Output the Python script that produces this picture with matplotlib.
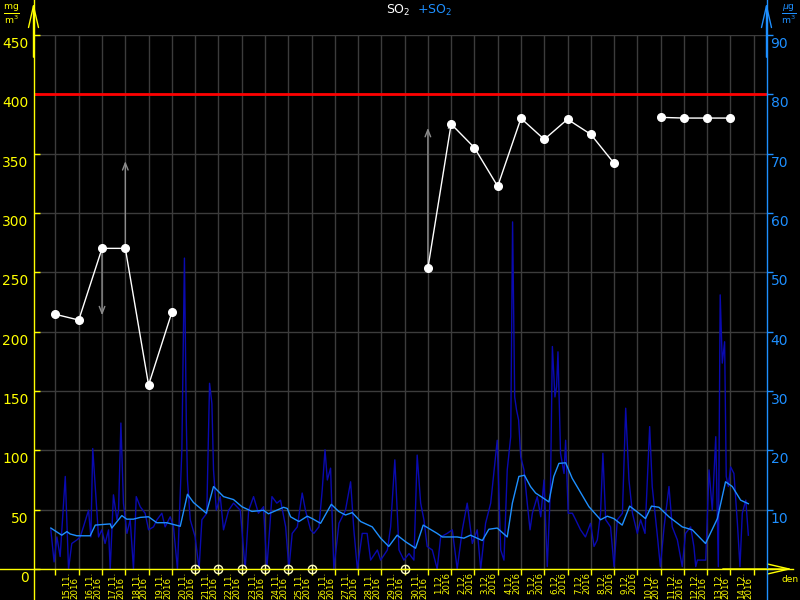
import numpy as np
import matplotlib
matplotlib.use("Agg")
import matplotlib.pyplot as plt
from matplotlib.lines import Line2D
from matplotlib.patches import FancyArrowPatch

nan = np.nan

# ---------------- data ----------------
day_labels = ["15.11.", "16.11.", "17.11.", "18.11.", "19.11.", "20.11.", "21.11.",
              "22.11.", "23.11.", "24.11.", "25.11.", "26.11.", "27.11.", "28.11.",
              "29.11.", "30.11.", "1.12.", "2.12.", "3.12.", "4.12.", "5.12.",
              "6.12.", "7.12.", "8.12.", "9.12.", "10.12.", "11.12.", "12.12.",
              "13.12.", "14.12."]
year_label = "2016"

# daily SO2 values (left axis)
so2_daily = [214.6, 209.8, 270.2, 270.2, 155.0, 216.3,
             nan, nan, nan, nan, nan, nan, nan, nan, nan, nan,
             253.4, 375.0, 355.0, 322.5, 379.8, 362.0, 379.0, 366.3, 341.9,
             nan, 380.6, 380.0, 380.0, 380.0]
limit_value = 400
missing_days = [6, 7, 8, 9, 10, 11, 15]

arrow_days = [2, 3, 16, 17]
arrow_start = [270.2, 270.2, 253.4, 375.0]
arrow_end = [211.5, 346.0, 374.0, 381.0]

# smoothed concentration (right axis)
smooth_days = [-0.20, 0.27, 0.49, 0.63, 0.92, 1.49, 1.71, 2.35, 2.42, 2.85, 3.06, 3.35,
               3.64, 4.00, 4.35, 4.78, 5.36, 5.67, 5.93, 6.48, 6.79, 7.22, 7.65, 8.01,
               8.44, 8.94, 9.15, 9.80, 9.96, 10.10, 10.46, 10.82, 11.03, 11.39, 11.85,
               12.17, 12.46, 12.75, 13.11, 13.61, 13.97, 14.32, 14.68, 15.04, 15.47,
               15.80, 16.40, 16.62, 17.26, 17.55, 17.83, 18.34, 18.62, 18.98, 19.41,
               19.63, 19.91, 20.15, 20.41, 20.63, 20.98, 21.20, 21.41, 21.63, 21.92,
               22.20, 22.92, 23.42, 23.71, 23.99, 24.35, 24.67, 25.07, 25.35, 25.61,
               25.93, 26.36, 26.93, 27.36, 27.93, 28.44, 28.79, 29.08, 29.44, 29.77]
smooth_vals = [6.9, 5.7, 6.3, 5.9, 5.6, 5.6, 7.4, 7.6, 6.9, 9.0, 8.4, 8.4,
               8.7, 8.8, 7.8, 7.8, 7.2, 12.6, 11.2, 9.4, 13.9, 12.2, 11.7, 10.5,
               9.7, 9.9, 9.3, 10.4, 10.2, 8.8, 8.0, 8.9, 8.5, 7.7, 10.9,
               9.7, 9.1, 9.5, 8.0, 7.1, 5.2, 3.8, 5.7, 4.6, 3.5,
               7.4, 6.0, 5.4, 5.4, 5.2, 5.7, 4.8, 6.7, 6.9, 5.4,
               11.1, 15.6, 15.8, 13.9, 12.8, 11.9, 11.3, 15.6, 17.8, 17.9,
               15.3, 10.5, 8.3, 8.9, 8.5, 7.4, 10.6, 9.4, 8.5, 10.6,
               10.4, 8.8, 7.1, 6.6, 4.3, 8.5, 14.7, 13.9, 11.6, 11.0]

# hourly concentration (right axis)
hourly_days = [-0.20, -0.11, -0.06, 0.06, 0.20, 0.42, 0.49, 0.56, 0.70, 0.92, 1.06, 1.20,
               1.42, 1.52, 1.60, 1.70, 1.85, 1.99, 2.13, 2.28, 2.35, 2.49, 2.64, 2.71,
               2.81, 2.92, 3.07, 3.21, 3.35, 3.47, 3.64, 3.85, 4.00, 4.21, 4.36, 4.57,
               4.71, 4.93, 5.07, 5.24, 5.43, 5.54, 5.62, 5.67, 5.79, 6.00, 6.17, 6.29,
               6.50, 6.62, 6.72, 6.79, 6.91, 7.08, 7.22, 7.44, 7.65, 7.94, 8.15, 8.30,
               8.51, 8.72, 8.94, 9.08, 9.30, 9.51, 9.67, 9.89, 10.03, 10.17, 10.39, 10.60,
               10.74, 10.96, 11.10, 11.32, 11.46, 11.58, 11.68, 11.82, 11.96, 12.18, 12.46,
               12.68, 12.82, 12.97, 13.18, 13.39, 13.54, 13.83, 13.97, 14.26, 14.40, 14.58,
               14.68, 14.76, 14.97, 15.19, 15.40, 15.54, 15.69, 15.83, 15.97, 16.19, 16.40,
               16.55, 16.83, 17.05, 17.26, 17.48, 17.69, 17.91, 18.12, 18.27, 18.48, 18.70,
               18.98, 19.13, 19.27, 19.41, 19.56, 19.64, 19.73, 19.81, 19.90, 19.99, 20.13,
               20.27, 20.39, 20.49, 20.70, 20.85, 20.99, 21.13, 21.27, 21.35, 21.46, 21.53,
               21.59, 21.70, 21.85, 21.92, 22.03, 22.21, 22.35, 22.56, 22.77, 22.99, 23.14,
               23.28, 23.42, 23.52, 23.64, 23.85, 24.00, 24.14, 24.36, 24.50, 24.64, 24.79,
               25.00, 25.14, 25.33, 25.43, 25.53, 25.64, 25.85, 25.99, 26.15, 26.36, 26.50,
               26.72, 26.93, 27.07, 27.29, 27.43, 27.51, 27.58, 27.94, 28.08, 28.22, 28.37,
               28.48, 28.56, 28.65, 28.75, 28.82, 28.91, 29.01, 29.15, 29.30, 29.41, 29.51,
               29.66, 29.77]
hourly_vals = [6.6, 3.2, 1.2, 5.4, 2.1, 15.6, 7.7, 0.0, 4.3, 4.9, 5.4, 7.1,
               9.9, 5.4, 20.3, 14.4, 5.4, 6.6, 4.3, 6.6, 0.0, 12.5, 8.3, 9.9,
               24.6, 11.1, 6.0, 8.3, 0.0, 12.2, 10.5, 9.4, 6.6, 7.1, 8.3, 9.4,
               7.1, 8.8, 7.1, 0.0, 20.1, 52.4, 25.1, 15.0, 8.3, 5.4, 0.0, 8.3,
               9.4, 31.3, 27.9, 16.7, 9.9, 12.2, 6.6, 9.9, 11.1, 9.9, 0.0, 9.9,
               12.2, 9.4, 10.5, 0.0, 12.2, 11.1, 11.6, 7.1, 0.0, 6.0, 7.1, 12.8,
               9.9, 6.6, 6.0, 7.1, 13.3, 20.1, 15.0, 17.0, 0.0, 7.7, 9.9,
               14.7, 6.6, 0.0, 6.0, 6.0, 1.5, 3.2, 1.5, 3.2, 7.1, 18.4,
               9.9, 3.2, 1.5, 2.6, 1.5, 19.2, 11.1, 8.3, 3.8, 3.2, 0.0,
               5.4, 6.0, 6.6, 0.0, 6.6, 11.1, 4.3, 6.6, 0.0, 7.7, 11.1,
               21.7, 3.2, 1.5, 16.7, 22.3, 58.5, 29.0, 26.8, 25.1, 18.9, 16.7,
               11.1, 6.6, 9.4, 12.2, 8.8, 15.0, 0.4, 13.9, 37.5, 29.0, 30.7,
               36.6, 19.5, 16.1, 21.7, 9.4, 9.4, 8.3, 6.6, 5.4, 7.7, 3.8,
               4.9, 9.4, 19.5, 8.3, 7.1, 0.4, 8.3, 9.4, 27.1, 15.0, 9.4,
               6.0, 8.3, 6.0, 15.0, 24.0, 13.9, 6.0, 0.4, 7.1, 13.9, 7.1,
               4.9, 0.4, 6.0, 7.1, 3.8, 0.4, 1.5, 1.5, 16.7, 9.9, 22.3,
               0.4, 46.2, 34.7, 38.3, 15.6, 13.9, 17.2, 16.1, 7.7, 0.4, 9.4,
               11.6, 5.7]

left_ticks = list(range(0, 451, 50))
right_ticks = list(range(10, 91, 10))

# ---------------- style ----------------
YEL = "#ffff00"
BLU = "#1e8fff"
NAVY = "#0a0ab0"
GRID = "#3c3c3c"
W, H = 800, 600

fig = plt.figure(figsize=(8, 6), dpi=100, facecolor="black")
ax = fig.add_axes([33.5 / W, 31 / H, 733 / W, 534 / H], facecolor="black")
ax.set_xlim(-0.945, 30.55)
ax.set_ylim(0, 450)
for s in ax.spines.values():
    s.set_visible(False)
ax.set_xticks(range(31))
ax.set_yticks(left_ticks)
ax.set_axisbelow(True)
ax.grid(True, color=GRID, lw=1)
ax.tick_params(axis="x", direction="out", length=4, color=YEL, width=1, labelbottom=False)
ax.tick_params(axis="y", direction="in", length=4, color=YEL, width=1, labelleft=False)

ax2 = ax.twinx()
ax2.set_ylim(0, 90)
for s in ax2.spines.values():
    s.set_visible(False)
ax2.set_yticks([0] + right_ticks)
ax2.tick_params(axis="y", direction="out", length=4, color=BLU, width=1, labelright=False)

# blue series on right axis
ax2.plot(hourly_days, hourly_vals, color=NAVY, lw=1.0, zorder=2)
ax2.plot(smooth_days, smooth_vals, color=BLU, lw=1.0, zorder=3)

# daily SO2 on left axis (drawn above blue)
ax3 = ax.twinx()
ax3.set_ylim(0, 450)
ax3.set_yticks([])
for s in ax3.spines.values():
    s.set_visible(False)
ax3.axhline(limit_value, color="#ff0000", lw=2, zorder=4)
days = np.arange(len(so2_daily))
ax3.plot(days, so2_daily, color="white", lw=1, marker="o", ms=5.5, mec="white",
         mfc="white", zorder=6)
for d, a, b in zip(arrow_days, arrow_start, arrow_end):
    ax3.annotate("", xy=(d, b), xytext=(d, a),
                 arrowprops=dict(arrowstyle="->,head_length=0.5,head_width=0.2",
                                 color="#8c8c8c", lw=1), zorder=5)
ax3.plot(missing_days, [0] * len(missing_days), ls="none", marker="o", ms=6,
         mfc="black", mec="#ffffc0", mew=1, clip_on=False, zorder=7)
ax3.plot(missing_days, [0] * len(missing_days), ls="none", marker="+", ms=6,
         mec="#ffffc0", mew=1, clip_on=False, zorder=8)

# tick labels
for v in left_ticks:
    ax.annotate(str(v), xy=(0, v), xycoords=ax.get_yaxis_transform(),
                xytext=(-5, -2), textcoords="offset pixels", ha="right", va="top",
                color=YEL, fontsize=10, annotation_clip=False)
for v in right_ticks:
    ax2.annotate(str(v), xy=(1, v), xycoords=ax2.get_yaxis_transform(),
                 xytext=(4, -2), textcoords="offset pixels", ha="left", va="top",
                 color=BLU, fontsize=10, annotation_clip=False)
for i, lab in enumerate(day_labels):
    ax.annotate(lab + "\n" + year_label, xy=(i + 0.64, 0),
                xycoords=("data", "axes fraction"), xytext=(0, -3),
                textcoords="offset pixels", rotation=90, ha="center", va="top",
                multialignment="left", color=YEL, fontsize=6.2, linespacing=0.85,
                annotation_clip=False)

# axis lines with arrows (figure level)
xl, xr, yb = 33.5 / W, 766.5 / W, 31 / H
fig.add_artist(Line2D([xl, xl], [0, 1], color=YEL, lw=1))
fig.add_artist(Line2D([xr, xr], [0, 1], color=BLU, lw=1))
fig.add_artist(Line2D([0, 793 / W], [yb, yb], color=YEL, lw=1))
ap = dict(arrowstyle="->,head_length=1.3,head_width=0.3", lw=1, mutation_scale=12)
fig.add_artist(FancyArrowPatch((xl, 0.9), (xl, 1.0), transform=fig.transFigure,
                               color=YEL, **ap))
fig.add_artist(FancyArrowPatch((xr, 0.9), (xr, 1.0), transform=fig.transFigure,
                               color=BLU, **ap))
fig.add_artist(FancyArrowPatch((0.9, yb), (795 / W, yb), transform=fig.transFigure,
                               color=YEL, **ap))
fig.text(790 / W, 1 - 580 / H, "den", ha="center", va="center", fontsize=6.5, color=YEL)

# units and title
fig.text(11 / W, 1 - 14 / H, r"$\frac{\mathrm{mg}}{\mathrm{m^3}}$", ha="center", va="center",
         fontsize=9.5, color=YEL)
fig.text(789 / W, 1 - 14 / H, r"$\frac{\mu\mathrm{g}}{\mathrm{m^3}}$", ha="center", va="center",
         fontsize=9.5, color=BLU)
fig.text(398 / W, 1 - 10 / H, r"SO$_2$", ha="center", va="center", fontsize=9, color="white")
fig.text(434 / W, 1 - 10 / H, r"+SO$_2$", ha="center", va="center", fontsize=9, color=BLU)

fig.savefig("out.png", dpi=100, facecolor="black")
